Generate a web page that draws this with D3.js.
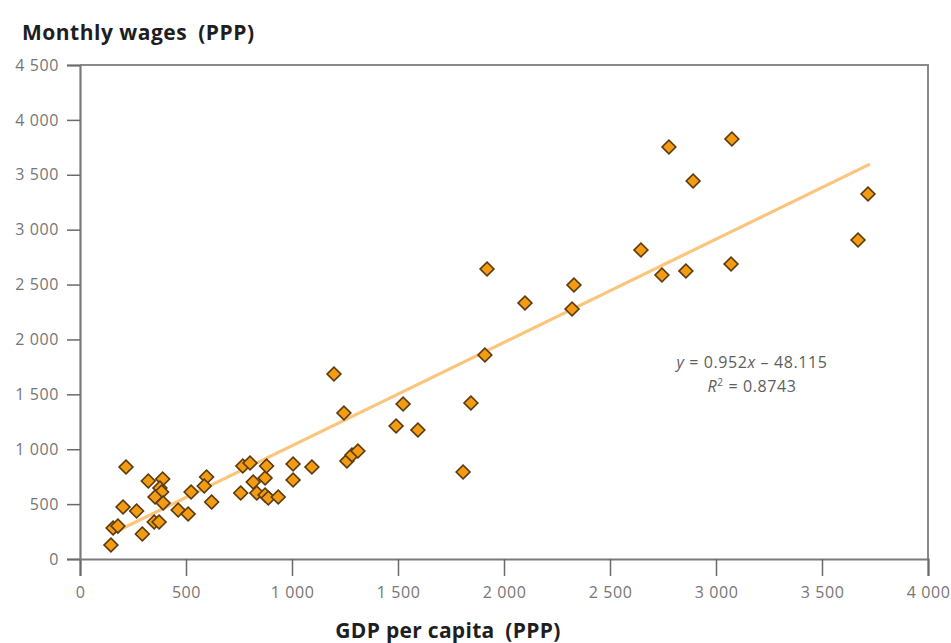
<!DOCTYPE html>
<html>
<head>
<meta charset="utf-8">
<script src="https://cdn.jsdelivr.net/npm/d3@7"></script>
<style>
	body { margin: 0; background: #fff; }
	svg { display: block; }
</style>
</head>
<body>
<script>
/**
	GDP per capita vs monthly wages, both in PPP
**/
var gdpValues = [2778, 3075, 2892, 3717, 3670, 2646, 2745, 2858, 3071, 2330, 1920, 2099, 2321, 1910,
	1198, 1245, 1524, 1844, 1491, 1594, 1807, 1094, 1005, 1005, 1259, 1283, 1311,
	217, 203, 267, 156, 179, 146, 294, 322, 390, 377, 385, 354, 392, 350, 373, 463, 510, 524,
	597, 586, 621, 758, 768, 802, 817, 834, 873, 880, 873, 888, 935];
var wageValues = [3753, 3826, 3443, 3325, 2906, 2815, 2587, 2623, 2687, 2496, 2642, 2332, 2277, 1858,
	1685, 1330, 1412, 1421, 1211, 1175, 792, 838, 865, 720, 893, 947, 984,
	838, 474, 437, 282, 300, 128, 228, 710, 729, 647, 610, 565, 510, 337, 337, 446, 410, 610,
	747, 665, 519, 601, 847, 874, 701, 601, 738, 847, 583, 556, 565];
var xTicks = [0, 500, 1000, 1500, 2000, 2500, 3000, 3500, 4000];
var yTicks = [0, 500, 1000, 1500, 2000, 2500, 3000, 3500, 4000, 4500];
var trend = {slope: 0.952, intercept: -48.115, r2: 0.8743};
var trendX = [156, 3726];
var trendY = [237, 3597];

var width = 951, height = 643;
var margin = {top: 65, right: 23, bottom: 84, left: 80};

var svg = d3.select('body').append('svg')
	.attr('width', width)
	.attr('height', height);

var x = d3.scaleLinear().domain([0, 4000]).range([margin.left, width - margin.right]);
var y = d3.scaleLinear().domain([0, 4500]).range([height - margin.bottom, margin.top]);

var fmt = function(d){
	return d3.format(',')(d).replace(/,/g, '\u00a0');
};

//frame on top and right
svg.append('path')
	.attr('d', 'M' + x(0) + ',' + y(4500) + 'H' + x(4000) + 'V' + y(0))
	.attr('fill', 'none')
	.attr('stroke', '#8a8a8a')
	.attr('stroke-width', 2);

var xAxis = svg.append('g')
	.attr('transform', 'translate(0,' + y(0) + ')')
	.call(d3.axisBottom(x).tickValues(xTicks).tickFormat(fmt).tickSize(17).tickPadding(8));
var yAxis = svg.append('g')
	.attr('transform', 'translate(' + x(0) + ',0)')
	.call(d3.axisLeft(y).tickValues(yTicks).tickFormat(fmt).tickSize(13).tickPadding(8));

[xAxis, yAxis].forEach(function(g){
	g.select('.domain').attr('stroke', '#7a7a7a').attr('stroke-width', 2.2);
	g.selectAll('.tick line').attr('stroke', '#6a6a6a').attr('stroke-width', 1.5);
	g.selectAll('.tick text')
		.attr('fill', '#767676')
		.style('font-family', '"Open Sans", sans-serif')
		.style('font-size', '16px')
		.style('letter-spacing', '0.6px');
});
xAxis.selectAll('.tick text').attr('dy', '0.85em');

svg.append('line')
	.attr('x1', x(trendX[0]))
	.attr('y1', y(trendY[0]))
	.attr('x2', x(trendX[1]))
	.attr('y2', y(trendY[1]))
	.attr('stroke', '#fcc57c')
	.attr('stroke-width', 3.2);

var points = gdpValues.map(function(d, i){ return {gdp: d, wage: wageValues[i]}; });
var diamond = d3.symbol().type(d3.symbolSquare).size(96);
svg.append('g').selectAll('path')
	.data(points)
	.enter().append('path')
	.attr('d', diamond)
	.attr('transform', function(d){
		return 'translate(' + x(d.gdp) + ',' + y(d.wage) + ') rotate(45)';
	})
	.attr('fill', '#f39c12')
	.attr('stroke', '#5a3a10')
	.attr('stroke-width', 1.6);

var eq = svg.append('g')
	.attr('fill', '#5e5e5e')
	.style('font-family', '"Open Sans", sans-serif')
	.style('font-size', '16px')
	.style('letter-spacing', '0.6px')
	.attr('text-anchor', 'middle');
var eqLine = eq.append('text').attr('x', 752).attr('y', 368);
eqLine.append('tspan').attr('font-style', 'italic').text('y');
eqLine.append('tspan').text(' = ' + trend.slope + '');
eqLine.append('tspan').attr('font-style', 'italic').text('x');
eqLine.append('tspan').text(' \u2013 ' + Math.abs(trend.intercept).toFixed(3));
var r2Line = eq.append('text').attr('x', 752).attr('y', 392);
r2Line.append('tspan').attr('font-style', 'italic').text('R');
r2Line.append('tspan').attr('dy', -6).style('font-size', '10px').text('2');
r2Line.append('tspan').attr('dy', 6).text(' = ' + trend.r2);

svg.append('text')
	.attr('x', 22)
	.attr('y', 40)
	.attr('fill', '#1e1e1e')
	.style('font-family', '"Open Sans", sans-serif')
	.style('font-weight', 'bold')
	.style('font-size', '21px')
	.style('letter-spacing', '0.5px')
	.text('Monthly wages\u2002(PPP)');

svg.append('text')
	.attr('x', 448)
	.attr('y', 638)
	.attr('text-anchor', 'middle')
	.attr('fill', '#1e1e1e')
	.style('font-family', '"Open Sans", sans-serif')
	.style('font-weight', 'bold')
	.style('font-size', '21px')
	.style('letter-spacing', '0.3px')
	.text('GDP per capita\u2002(PPP)');
</script>
</body>
</html>
